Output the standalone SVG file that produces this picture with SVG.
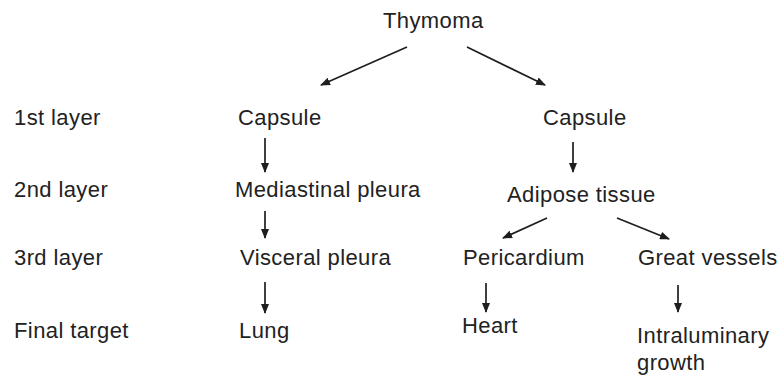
<svg xmlns="http://www.w3.org/2000/svg" width="783" height="376" viewBox="0 0 783 376">
<defs>
<marker id="ah" viewBox="0 0 10 8" refX="9" refY="4" markerWidth="10" markerHeight="8" orient="auto" markerUnits="userSpaceOnUse">
<path d="M0,0 L10,4 L0,8 z" fill="#1e1e1e"/>
</marker>
<style>
text{font-family:"Liberation Sans",Arial,sans-serif;font-size:22px;letter-spacing:0.4px;fill:#222}
.c line{stroke:#1e1e1e;stroke-width:1.7;marker-end:url(#ah)}
</style>
</defs>
<rect width="783" height="376" fill="#fff"/>
<g id="labels">
<text x="14" y="125">1st layer</text>
<text x="14" y="197">2nd layer</text>
<text x="14" y="265">3rd layer</text>
<text x="14" y="338">Final target</text>
</g>
<g id="thymoma"><text x="383" y="28">Thymoma</text></g>
<g id="capsule-l"><text x="238" y="125">Capsule</text></g>
<g id="capsule-r"><text x="543" y="125">Capsule</text></g>
<g id="mediastinal"><text x="235" y="197">Mediastinal pleura</text></g>
<g id="adipose"><text x="507" y="202">Adipose tissue</text></g>
<g id="visceral"><text x="240" y="265">Visceral pleura</text></g>
<g id="pericardium"><text x="463" y="265">Pericardium</text></g>
<g id="great-vessels"><text x="638" y="265">Great vessels</text></g>
<g id="lung"><text x="239" y="338">Lung</text></g>
<g id="heart"><text x="462" y="333">Heart</text></g>
<g id="intraluminary"><text x="637" y="343">Intraluminary</text><text x="637" y="370">growth</text></g>
<g id="connectors" class="c">
<line x1="407" y1="47" x2="321" y2="85"/>
<line x1="467" y1="47" x2="545" y2="85"/>
<line x1="265" y1="138" x2="265" y2="172"/>
<line x1="265" y1="211" x2="265" y2="238"/>
<line x1="265" y1="282" x2="265" y2="313"/>
<line x1="573" y1="142" x2="573" y2="172"/>
<line x1="547" y1="218" x2="503" y2="238"/>
<line x1="617" y1="218" x2="669" y2="239"/>
<line x1="486" y1="283" x2="486" y2="312"/>
<line x1="678" y1="285" x2="678" y2="312"/>
</g>
</svg>
